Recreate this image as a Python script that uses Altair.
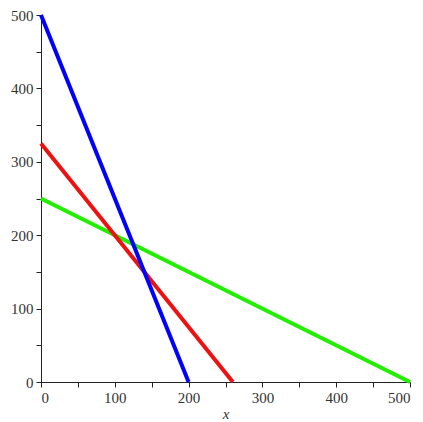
import altair as alt
import pandas as pd

series = ["green", "red", "blue"]
x_start = [0, 0, 0]
y_start = [250, 325, 500]
x_end = [500, 260, 200]
y_end = [0, 0, 0]
colors = ["#22ee00", "#ee1111", "#0000ff"]

rows = []
for i, s in enumerate(series):
    rows.append({"s": s, "order": i, "x": x_start[i], "y": y_start[i]})
    rows.append({"s": s, "order": i, "x": x_end[i], "y": y_end[i]})
df = pd.DataFrame(rows)

ticks = list(range(0, 501, 50))
label_expr = "datum.value % 100 == 0 ? datum.label : ''"

axis_common = dict(
    grid=False,
    values=ticks,
    labelExpr=label_expr,
    labelFont="Liberation Serif",
    labelFontSize=15,
    labelColor="#333333",
    domainColor="#222222",
    tickColor="#222222",
    tickSize=5,
    domainWidth=1,
    tickWidth=1,
)

chart = alt.Chart(df).mark_line(strokeWidth=4, strokeCap="butt").encode(
    x=alt.X("x:Q", scale=alt.Scale(domain=[0, 500], nice=False),
            axis=alt.Axis(title="x", titleFont="Liberation Serif", titleFontStyle="italic",
                          titleFontWeight="normal", titleFontSize=15, titleColor="#333333",
                          titlePadding=1, labelPadding=3, **axis_common)),
    y=alt.Y("y:Q", scale=alt.Scale(domain=[0, 500], nice=False),
            axis=alt.Axis(title=None, labelPadding=3, **axis_common)),
    color=alt.Color("s:N", scale=alt.Scale(domain=series, range=colors), legend=None),
    order=alt.Order("order:Q"),
    detail="s:N",
).properties(
    width=369, height=367,
    autosize="none",
    padding={"left": 33, "top": 7, "right": 5, "bottom": 40},
).configure_view(stroke=None)

chart.save("out.html", embed_options={"renderer": "svg", "actions": False})
